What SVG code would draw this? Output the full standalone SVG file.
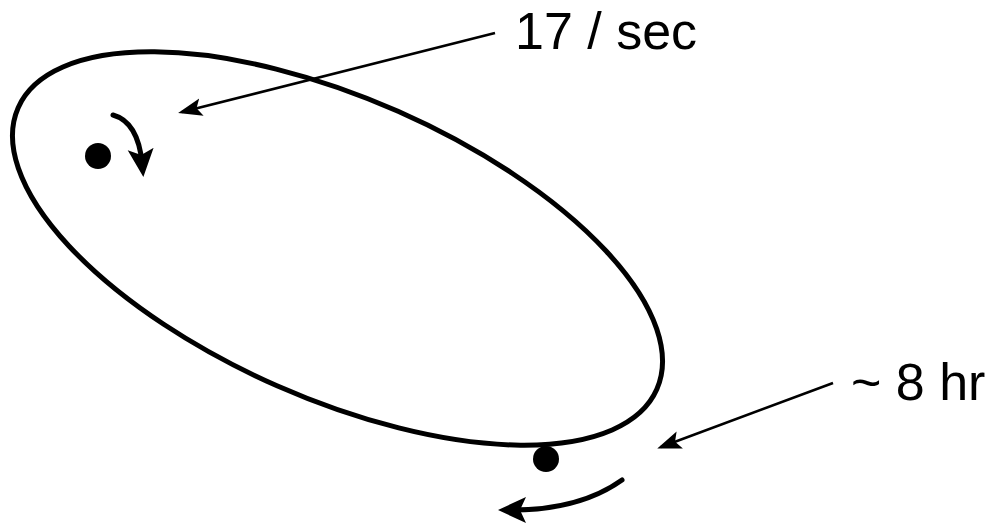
<svg xmlns="http://www.w3.org/2000/svg" width="994" height="523" viewBox="0 0 994 523">
<style>
.orbit{fill:none;stroke:#000;stroke-width:5}
.thin{fill:none;stroke:#000;stroke-width:2.6}
.thick{fill:none;stroke:#000;stroke-width:5;stroke-linecap:round}
.lbl{font-family:"Liberation Sans",Arial,sans-serif;font-size:52px;fill:#000}
</style>
<defs>
<marker id="headThin" markerUnits="userSpaceOnUse" markerWidth="26" markerHeight="20" refX="20" refY="9" orient="auto">
<path d="M0,0 L24,9 L0,18 L5,9 z" fill="#000"/>
</marker>
<marker id="headThick" markerUnits="userSpaceOnUse" markerWidth="32" markerHeight="28" refX="14" refY="13" orient="auto">
<path d="M0,0 L28,13 L0,26 L6,13 z" fill="#000"/>
</marker>
</defs>
<g id="orbit">
<ellipse class="orbit" cx="337.5" cy="248.5" rx="349" ry="150" transform="rotate(23.8 337.5 248.5)"/>
</g>
<g id="star1">
<circle cx="98" cy="156" r="13" fill="#000"/>
</g>
<g id="star2">
<circle cx="546" cy="459" r="13" fill="#000"/>
</g>
<g id="label-17sec">
<text class="lbl" x="515" y="49">17 / sec</text>
</g>
<g id="label-8hr">
<text class="lbl" x="851" y="400">~ 8 hr</text>
</g>
<g id="connectors">
<path class="thin" d="M495,33 L182,112" marker-end="url(#headThin)"/>
<path class="thin" d="M833,383 L661,447" marker-end="url(#headThin)"/>
<path class="thick" d="M113,115 Q138,122 142,163" marker-end="url(#headThick)"/>
<path class="thick" d="M622,480 Q580,510 512,510" marker-end="url(#headThick)"/>
</g>
</svg>
